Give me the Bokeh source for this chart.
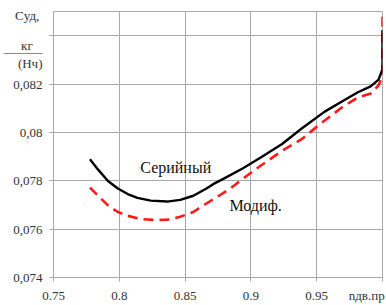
from bokeh.plotting import figure
from bokeh.models import Range1d, FixedTicker, Label
from bokeh.embed import file_html
from bokeh.resources import INLINE

# Series "Серийный" (solid black)
serial_x = [0.7777, 0.7839, 0.7914, 0.7989, 0.8064, 0.8138, 0.8239, 0.8363, 0.8463, 0.8563,
            0.8662, 0.8713, 0.8787, 0.8937, 0.9087, 0.9237, 0.9386, 0.9558, 0.9708, 0.9813,
            0.9910, 0.9970, 1.0, 1.0]
serial_y = [0.07889, 0.07846, 0.07799, 0.07768, 0.07745, 0.07729, 0.07718, 0.07714, 0.07721, 0.07738,
            0.07768, 0.07786, 0.07807, 0.07851, 0.07900, 0.07952, 0.08016, 0.08085, 0.08133, 0.08166,
            0.08190, 0.08218, 0.08262, 0.08423]
# Series "Модиф." (dashed red)
modif_x = [0.7777, 0.7839, 0.7914, 0.7989, 0.8064, 0.8164, 0.8263, 0.8363, 0.8463, 0.8563,
           0.8662, 0.8735, 0.8840, 0.8937, 0.9034, 0.9237, 0.9386, 0.9513, 0.9686, 0.9813,
           0.9910, 0.9970, 1.0, 1.0]
modif_y = [0.07772, 0.07738, 0.07698, 0.07671, 0.07655, 0.07642, 0.07638, 0.07639, 0.07651, 0.07671,
           0.07706, 0.07730, 0.07767, 0.07807, 0.07847, 0.07924, 0.07972, 0.08029, 0.08101, 0.08145,
           0.08161, 0.08194, 0.08234, 0.08500]

x_grid = [0.75, 0.8, 0.85, 0.9, 0.95, 1.0]
x_label_pos = [0.75, 0.8, 0.85, 0.9, 0.95, 0.988]
x_labels = ["0.75", "0.8", "0.85", "0.9", "0.95", "nдв.пр"]
y_grid = [0.074, 0.076, 0.078, 0.080, 0.082, 0.084]
y_label_pos = [0.074, 0.076, 0.078, 0.080, 0.082, 0.08359, 0.08335, 0.08286, 0.08484]
y_labels = ["0,074", "0,076", "0,078", "0,08", "0,082",
            "кг\u00a0\u00a0\u00a0", "———", "(Нч)", "Cуд,\u00a0"]

FONT = "Liberation Serif"
GRID = "#a8a8a8"

p = figure(width=386, height=305, output_backend="svg", toolbar_location=None,
           x_range=Range1d(0.75, 1.0), y_range=Range1d(0.074, 0.085),
           min_border_left=48, min_border_right=4, min_border_top=11, min_border_bottom=21)
p.background_fill_color = "white"
p.border_fill_color = "white"
p.outline_line_color = GRID
p.outline_line_width = 1

for ax in (p.xaxis[0], p.yaxis[0]):
    ax.axis_line_color = None
    ax.major_tick_line_color = None
    ax.major_tick_out = 0
    ax.major_tick_in = 0
    ax.minor_tick_line_color = GRID
    ax.minor_tick_out = 4
    ax.minor_tick_in = 0
    ax.major_label_text_font = FONT
    ax.major_label_text_font_size = "13px"
    ax.major_label_text_color = "#333333"

p.xaxis[0].ticker = FixedTicker(ticks=x_label_pos, minor_ticks=x_grid)
p.xaxis[0].major_label_overrides = {t: l for t, l in zip(x_label_pos, x_labels)}
p.xaxis[0].major_label_standoff = 6
p.yaxis[0].ticker = FixedTicker(ticks=y_label_pos, minor_ticks=y_grid)
p.yaxis[0].major_label_overrides = {t: l for t, l in zip(y_label_pos, y_labels)}
p.yaxis[0].major_label_standoff = 7

p.xgrid.ticker = FixedTicker(ticks=x_grid)
p.ygrid.ticker = FixedTicker(ticks=y_grid)
p.xgrid.grid_line_color = GRID
p.ygrid.grid_line_color = GRID

p.line(modif_x, modif_y, line_color="#ff1a1a", line_width=2.6, line_dash="10 6")
p.line(serial_x, serial_y, line_color="#000000", line_width=2.4)

p.add_layout(Label(x=0.8429, y=0.07855, text="Серийный", text_font=FONT, text_font_size="16px",
                   text_align="center", text_baseline="middle", text_color="#111111"))
p.add_layout(Label(x=0.9036, y=0.07698, text="Модиф.", text_font=FONT, text_font_size="16px",
                   text_align="center", text_baseline="middle", text_color="#111111"))

open("out.html", "w").write(file_html(p, INLINE))
